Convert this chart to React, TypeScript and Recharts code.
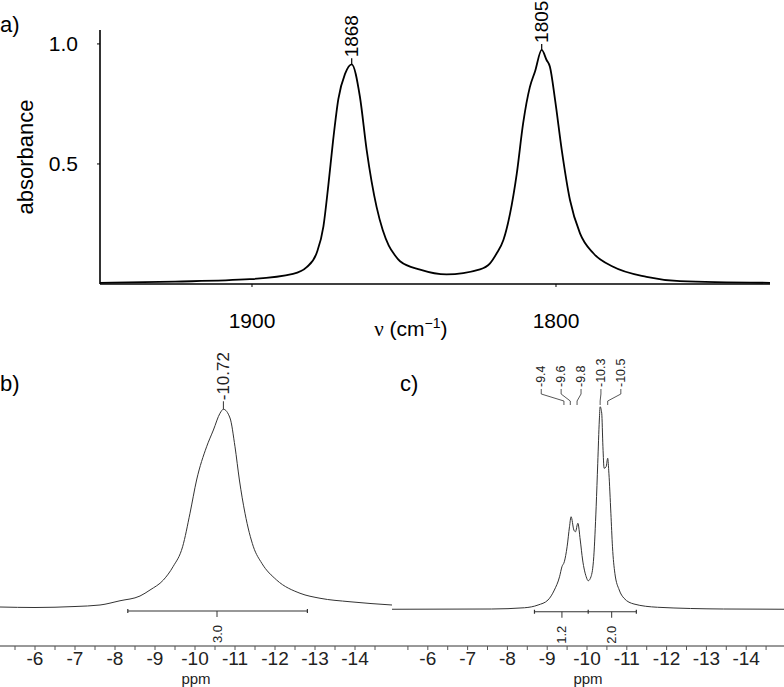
import React from 'react';
import { ComposedChart, Line, Scatter, XAxis, YAxis } from 'recharts';

const SANS = '"Liberation Sans", Arial, sans-serif';
const NARROW = '"Liberation Sans Narrow", "Arial Narrow", "Liberation Sans", sans-serif';

// a) IR spectrum, wavenumber (cm-1) vs absorbance
const irWavenumber = [
  1950, 1925.3, 1900.7, 1886.5, 1882, 1878.7, 1876.5, 1874.9, 1873.3, 1871.6,
  1869.4, 1867.2, 1864.5, 1862.3, 1859, 1857, 1855, 1853, 1851.3,
  1844.7, 1836, 1825, 1821.7, 1819.5, 1817.3, 1815.1, 1812.9, 1810.8, 1808.6,
  1806.9, 1804.7, 1803.1, 1802, 1800.3, 1798.1, 1795.4, 1792.1, 1787.7, 1781.2,
  1770.2, 1759.2, 1729.6,
];
const irAbsorbance = [
  0.005, 0.01, 0.02, 0.042, 0.07, 0.13, 0.24, 0.41, 0.6, 0.77,
  0.875, 0.915, 0.78, 0.56, 0.32, 0.225, 0.16, 0.12, 0.095,
  0.06, 0.04, 0.061, 0.086, 0.128, 0.183, 0.294, 0.46, 0.67, 0.82,
  0.885, 0.975, 0.933, 0.905, 0.767, 0.558, 0.35, 0.211, 0.128, 0.072,
  0.03, 0.012, 0.005,
];
const irTicks = [1900, 1800];
const irYTicks = [0.5, 1.0];
const irPeakWn = [1867.2, 1804.7];
const irPeakAbs = [0.915, 0.975];
const irPeakLabels = ['1868', '1805'];

// b) NMR spectrum, ppm vs intensity (arbitrary)
const bPpm = [
  -5.125, -6, -7, -7.625, -8.125, -8.625, -8.875, -9.21, -9.45, -9.69,
  -9.875, -10.04, -10.29, -10.46, -10.625, -10.71, -10.875, -11.0, -11.11, -11.25,
  -11.46, -11.67, -12.04, -12.625, -13.125, -13.875, -14.925,
];
const bInt = [
  0.156, 0.154, 0.158, 0.164, 0.181, 0.2, 0.224, 0.264, 0.317, 0.397,
  0.531, 0.664, 0.797, 0.864, 0.931, 0.947, 0.912, 0.797, 0.664, 0.531,
  0.397, 0.331, 0.264, 0.211, 0.191, 0.177, 0.164,
];
const bPeakPpm = [-10.71];
const bPeakInt = [0.947];
const bPeakLabels = ['-10.72'];
const bIntegralEdges = [-8.32, -12.81];
const bIntegralCentres = [-10.55];
const bIntegralValues = ['3.0'];

// c) NMR spectrum
const cPpm = [
  -5.1, -7.6, -8.43, -8.77, -9.02, -9.18, -9.31, -9.37, -9.43, -9.5,
  -9.56, -9.6, -9.67, -9.71, -9.77, -9.83, -9.89, -9.98, -10.03, -10.1,
  -10.17, -10.23, -10.27, -10.31, -10.33, -10.37, -10.4, -10.43, -10.48, -10.52,
  -10.55, -10.6, -10.64, -10.7, -10.81, -10.93, -11.18, -11.77, -13.43, -14.95,
];
const cInt = [
  0.147, 0.148, 0.153, 0.164, 0.184, 0.224, 0.277, 0.317, 0.337, 0.397,
  0.477, 0.517, 0.464, 0.457, 0.491, 0.424, 0.344, 0.277, 0.261, 0.277,
  0.357, 0.557, 0.731, 0.904, 0.957, 0.931, 0.797, 0.711, 0.717, 0.751,
  0.691, 0.531, 0.397, 0.291, 0.224, 0.191, 0.168, 0.155, 0.148, 0.147,
];
const cPeakPpm = [-9.42, -9.58, -9.75, -10.33, -10.52];
const cPeakLabelPpm = [-8.85, -9.35, -9.85, -10.35, -10.85];
const cPeakLabels = ['-9.4', '-9.6', '-9.8', '-10.3', '-10.5'];
const cIntegralEdges = [-8.68, -10.03, -11.24];
const cIntegralCentres = [-9.37, -10.62];
const cIntegralValues = ['1.2', '2.0'];

const nmrTicks = [
  -5.5, -6, -6.5, -7, -7.5, -8, -8.5, -9, -9.5, -10,
  -10.5, -11, -11.5, -12, -12.5, -13, -13.5, -14, -14.5,
];

// annotation levels (intensity units)
const INTEGRAL_LEVEL = 0.14;
const CAP = 0.008;
const CONNECTOR_LEVELS = [1.028, 1.008, 0.98, 0.964];

const irData = irWavenumber.map((wn, i) => ({ wn, abs: irAbsorbance[i] }));
const irPeaks = irPeakWn.map((wn, i) => ({ wn, abs: irPeakAbs[i], label: irPeakLabels[i] }));
const bData = bPpm.map((ppm, i) => ({ ppm, v: bInt[i] }));
const cData = cPpm.map((ppm, i) => ({ ppm, v: cInt[i] }));

function integralPath(edges: number[], level: number) {
  const pts: { ppm: number; v: number }[] = [];
  edges.forEach((e, i) => {
    if (i > 0) pts.push({ ppm: e, v: level });
    pts.push({ ppm: e, v: level + CAP }, { ppm: e, v: level - CAP }, { ppm: e, v: level });
  });
  return pts;
}

function IrPeakMark(props: any) {
  const { cx, cy, payload } = props;
  const ty = cy - 6;
  return (
    <g>
      <line x1={cx} y1={cy} x2={cx} y2={ty} stroke="#000" strokeWidth={1.2} />
      <text x={cx} y={ty - 1} transform={`rotate(-90 ${cx} ${ty - 1})`} textAnchor="start"
        dominantBaseline="central" fontSize={19} fontFamily={SANS} fill="#000">{payload.label}</text>
    </g>
  );
}

function NmrPeakMark(props: any) {
  const { cx, cy, payload } = props;
  const ty = cy - 8;
  return (
    <g>
      <line x1={cx} y1={cy} x2={cx} y2={ty} stroke="#333" strokeWidth={1} />
      <text x={cx} y={ty - 1} transform={`rotate(-90 ${cx} ${ty - 1})`} textAnchor="start"
        dominantBaseline="central" fontSize={17} fontFamily={SANS} fill="#222">{payload.label}</text>
    </g>
  );
}

function NmrSmallLabel(props: any) {
  const { cx, cy, payload } = props;
  const ty = cy - 2;
  return (
    <text x={cx} y={ty} transform={`rotate(-90 ${cx} ${ty})`} textAnchor="start"
      dominantBaseline="central" fontSize={12.5} fontFamily={SANS} fill="#222">{payload.label}</text>
  );
}

function IntegralMark(props: any) {
  const { cx, cy, payload } = props;
  const ty = cy + 14;
  return (
    <g>
      <line x1={cx} y1={cy} x2={cx} y2={cy + 6} stroke="#333" strokeWidth={1} />
      <text x={cx} y={ty} transform={`rotate(-90 ${cx} ${ty})`} textAnchor="end"
        dominantBaseline="central" fontSize={13} fontFamily={SANS} fill="#222">{payload.label}</text>
    </g>
  );
}

function IrXLabel({ viewBox }: any) {
  const x = viewBox.x + viewBox.width * 0.464;
  const y = viewBox.y + 52;
  return (
    <text x={x} y={y} textAnchor="middle" fontSize={21} fontFamily={SANS} fill="#000">
      <tspan fontFamily='"Liberation Serif", serif'>ν</tspan>
      <tspan> (cm</tspan>
      <tspan dy={-8} fontSize={14}>−1</tspan>
      <tspan dy={8}>)</tspan>
    </text>
  );
}

function IrYLabel({ viewBox }: any) {
  const x = viewBox.x + 33;
  const y = viewBox.y + viewBox.height / 2;
  return (
    <text x={x} y={y} transform={`rotate(-90 ${x} ${y})`} textAnchor="middle" fontSize={22}
      fontFamily={SANS} fill="#000">absorbance</text>
  );
}

function PpmLabel({ viewBox }: any) {
  return (
    <text x={viewBox.x + viewBox.width / 2} y={viewBox.y + 38} textAnchor="middle" fontSize={15}
      fontFamily={NARROW} fill="#222">ppm</text>
  );
}

function NmrPanel({ data, domain, peaks, peakShape, labelMarks, connectors, integral, integralMarks }: any) {
  return (
    <ComposedChart width={392} height={357} margin={{ top: 16, right: 0, bottom: 0, left: 0 }}>
      <XAxis type="number" dataKey="ppm" domain={domain} reversed ticks={nmrTicks} interval={0}
        tickFormatter={(v: number) => (Number.isInteger(v) ? String(v) : '')}
        tickSize={4} tickMargin={2} height={41}
        axisLine={{ stroke: '#333', strokeWidth: 1 }} tickLine={{ stroke: '#555' }}
        tick={{ fontSize: 19, fill: '#222', fontFamily: NARROW }} label={PpmLabel} />
      <YAxis type="number" domain={[0, 1.2]} hide />
      <Line data={data} dataKey="v" type="monotone" stroke="#333" strokeWidth={1}
        dot={false} activeDot={false} isAnimationActive={false} />
      <Line data={integral} dataKey="v" type="linear" stroke="#333" strokeWidth={1.2}
        dot={false} activeDot={false} isAnimationActive={false} />
      {connectors.map((c: any, i: number) => (
        <Line key={i} data={c} dataKey="v" type="linear" stroke="#444" strokeWidth={0.9}
          dot={false} activeDot={false} isAnimationActive={false} />
      ))}
      <Scatter data={peaks} dataKey="v" shape={peakShape} isAnimationActive={false} />
      {labelMarks.length > 0 && (
        <Scatter data={labelMarks} dataKey="v" shape={NmrSmallLabel} isAnimationActive={false} />
      )}
      <Scatter data={integralMarks} dataKey="v" shape={IntegralMark} isAnimationActive={false} />
    </ComposedChart>
  );
}

const bPeaks = bPeakPpm.map((ppm, i) => ({ ppm, v: bPeakInt[i], label: bPeakLabels[i] }));
const bIntegral = integralPath(bIntegralEdges, INTEGRAL_LEVEL);
const bIntegralMarks = bIntegralCentres.map((ppm, i) => ({ ppm, v: INTEGRAL_LEVEL, label: bIntegralValues[i] }));

const cLabelMarks = cPeakLabelPpm.map((ppm, i) => ({ ppm, v: CONNECTOR_LEVELS[0], label: cPeakLabels[i] }));
const cConnectors = cPeakPpm.map((p, i) => [
  { ppm: cPeakLabelPpm[i], v: CONNECTOR_LEVELS[0] },
  { ppm: cPeakLabelPpm[i], v: CONNECTOR_LEVELS[1] },
  { ppm: p, v: CONNECTOR_LEVELS[2] },
  { ppm: p, v: CONNECTOR_LEVELS[3] },
]);
const cIntegral = integralPath(cIntegralEdges, INTEGRAL_LEVEL - 0.003);
const cIntegralMarks = cIntegralCentres.map((ppm, i) => ({ ppm, v: INTEGRAL_LEVEL - 0.003, label: cIntegralValues[i] }));

const panelLabel: React.CSSProperties = {
  position: 'absolute', fontFamily: SANS, fontSize: 22, lineHeight: '22px', color: '#000',
};

export default function App() {
  return (
    <div style={{ position: 'absolute', left: 0, top: 0, width: 784, height: 687, background: '#fff', overflow: 'hidden' }}>
      <div style={{ position: 'absolute', left: 0, top: 0 }}>
        <ComposedChart width={784} height={345} margin={{ top: 30, right: 14, bottom: 0, left: 0 }}>
          <XAxis type="number" dataKey="wn" domain={[1729.6, 1950]} reversed ticks={irTicks} interval={0}
            tickSize={3} tickMargin={26} height={61}
            axisLine={{ stroke: '#000', strokeWidth: 1.6 }} tickLine={{ stroke: '#000' }}
            tick={{ fontSize: 21, fill: '#000', fontFamily: SANS }} label={IrXLabel} />
          <YAxis type="number" domain={[0, 1.058]} ticks={irYTicks} interval={0}
            tickFormatter={(v: number) => v.toFixed(1)} width={100} tickSize={3} tickMargin={19}
            axisLine={{ stroke: '#000', strokeWidth: 1.6 }} tickLine={{ stroke: '#000' }}
            tick={{ fontSize: 21, fill: '#000', fontFamily: SANS }} label={IrYLabel} />
          <Line data={irData} dataKey="abs" type="monotone" stroke="#000" strokeWidth={1.8}
            dot={false} activeDot={false} isAnimationActive={false} />
          <Scatter data={irPeaks} dataKey="abs" shape={IrPeakMark} isAnimationActive={false} />
        </ComposedChart>
      </div>
      <div style={{ position: 'absolute', left: 0, top: 330 }}>
        <NmrPanel data={bData} domain={[-14.925, -5.125]} peaks={bPeaks} peakShape={NmrPeakMark}
          labelMarks={[]} connectors={[]} integral={bIntegral} integralMarks={bIntegralMarks} />
      </div>
      <div style={{ position: 'absolute', left: 392, top: 330 }}>
        <NmrPanel data={cData} domain={[-14.95, -5.15]} peaks={[]} peakShape={NmrPeakMark}
          labelMarks={cLabelMarks} connectors={cConnectors} integral={cIntegral} integralMarks={cIntegralMarks} />
      </div>
      <div style={{ ...panelLabel, left: 0, top: 14 }}>a)</div>
      <div style={{ ...panelLabel, left: 0, top: 373 }}>b)</div>
      <div style={{ ...panelLabel, left: 400, top: 373 }}>c)</div>
    </div>
  );
}
